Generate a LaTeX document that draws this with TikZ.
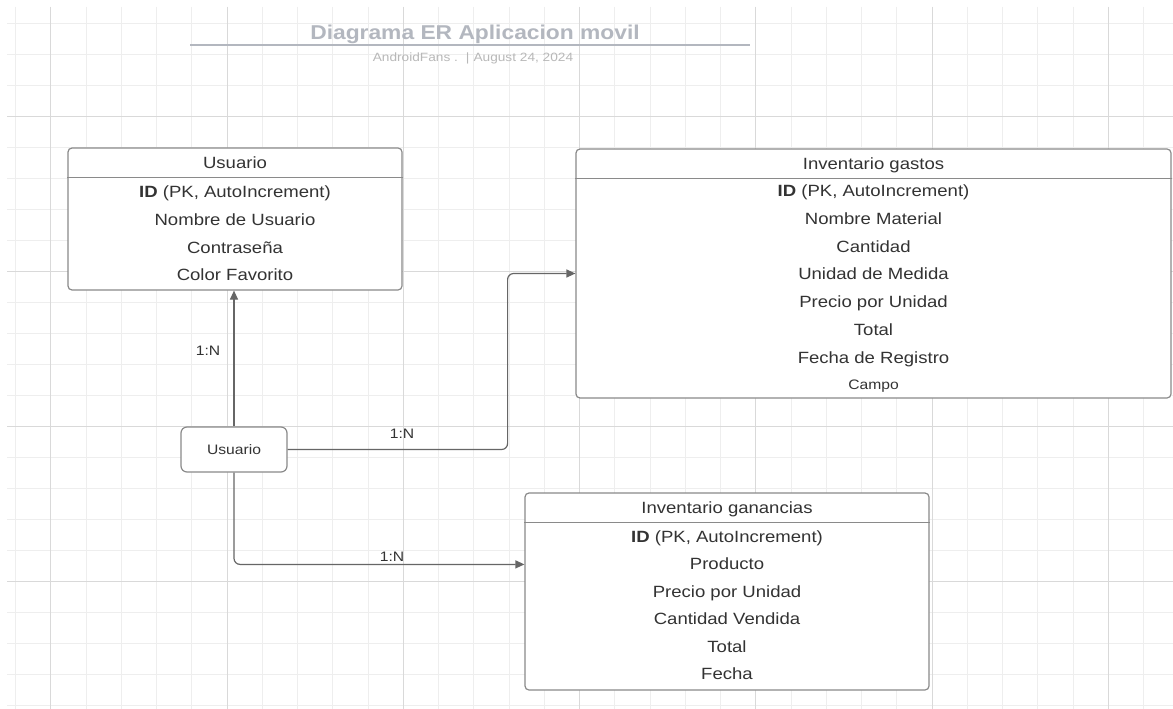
\documentclass[tikz,border=0pt]{standalone}
\usepackage{fontspec}
\setmainfont{Liberation Sans}[FakeStretch=1.14]
\usetikzlibrary{arrows.meta}
\definecolor{gridminor}{HTML}{EEEEEE}
\definecolor{gridmajor}{HTML}{D9D9D9}
\definecolor{txt}{HTML}{333333}
\definecolor{boxline}{HTML}{8A8A8A}
\definecolor{conncol}{HTML}{666666}
\definecolor{titlecol}{HTML}{B3B7BF}
\definecolor{subcol}{HTML}{B8B8B8}
\begin{document}
\begin{tikzpicture}[x=0.75pt,y=-0.75pt,
  entity/.style={draw=boxline, line width=0.9pt, fill=white, rounded corners=3pt, inner sep=0pt},
  sepline/.style={draw=boxline, line width=0.9pt},
  row/.style={font=\fontsize{12.2}{14}\selectfont, text=txt, inner sep=0pt, text height=8.8pt, text depth=0pt},
  small/.style={font=\fontsize{10.3}{12}\selectfont, text=txt, inner sep=0pt, text height=7.4pt, text depth=0pt},
  conn/.style={draw=conncol, line width=0.9pt, -{Triangle[length=6.75pt,width=6pt]}, rounded corners=4.5pt},
  gminor/.style={draw=gridminor, line width=0.75pt},
  gmajor/.style={draw=gridmajor, line width=0.75pt}
  ]
\useasboundingbox (0,0) rectangle (1173,709);
\fill[white] (0,0) rectangle (1173,709);
% grid
\foreach \k in {-1,...,31} \draw[gminor] ({50.75+35.25*\k},7) -- ({50.75+35.25*\k},709);
\foreach \k in {-3,...,19} \draw[gminor] (7,{116.7+31*\k}) -- (1173,{116.7+31*\k});
\foreach \k in {0,...,6} \draw[gmajor] ({50.75+176.25*\k},7) -- ({50.75+176.25*\k},709);
\foreach \k in {0,...,3} \draw[gmajor] (7,{116.7+155*\k}) -- (1173,{116.7+155*\k});

% title
\node[font=\bfseries\fontsize{15}{18}\selectfont, text=titlecol, inner sep=0pt, text height=10.7pt, text depth=0pt] (title) at (475,32) {Diagrama ER Aplicacion movil};
\coordinate (ulA) at (190,45);
\coordinate (ulB) at (750,45);
\draw[draw=titlecol, line width=1.4pt] (ulA) -- (ulB);
\node[font=\fontsize{9}{11}\selectfont, text=subcol, inner sep=0pt, text height=6.5pt, text depth=0pt] (subtitle) at (473,57) {AndroidFans .\hspace{6pt}|\hspace{3pt}August 24, 2024};

% Usuario table
\node[entity, minimum width=250.5pt, minimum height=106.5pt] (U) at (235,219) {};
\draw[sepline] ([yshift=-22.5pt]U.north west) -- ([yshift=-22.5pt]U.north east);
\node[row] (U-h) at (235,163) {Usuario};
\node[row] (U-1) at (235,192) {\textbf{ID} (PK, AutoIncrement)};
\node[row] (U-2) at (235,219.7) {Nombre de Usuario};
\node[row] (U-3) at (235,247.4) {Contraseña};
\node[row] (U-4) at (235,275.1) {Color Favorito};

% Inventario gastos table
\node[entity, minimum width=446.25pt, minimum height=186.75pt] (G) at (873.5,273.5) {};
\draw[sepline] ([yshift=-22.5pt]G.north west) -- ([yshift=-22.5pt]G.north east);
\node[row] (G-h) at (873.5,164) {Inventario gastos};
\node[row] (G-1) at (873.5,191) {\textbf{ID} (PK, AutoIncrement)};
\node[row] (G-2) at (873.5,218.7) {Nombre Material};
\node[row] (G-3) at (873.5,246.4) {Cantidad};
\node[row] (G-4) at (873.5,274.1) {Unidad de Medida};
\node[row] (G-5) at (873.5,301.8) {Precio por Unidad};
\node[row] (G-6) at (873.5,329.5) {Total};
\node[row] (G-7) at (873.5,357.2) {Fecha de Registro};
\node[small] (G-8) at (873.5,385) {Campo};

% Inventario ganancias table
\node[entity, minimum width=303pt, minimum height=147.75pt] (H) at (727,591.5) {};
\draw[sepline] ([yshift=-22.5pt]H.north west) -- ([yshift=-22.5pt]H.north east);
\node[row] (H-h) at (727,508) {Inventario ganancias};
\node[row] (H-1) at (727,536.5) {\textbf{ID} (PK, AutoIncrement)};
\node[row] (H-2) at (727,564) {Producto};
\node[row] (H-3) at (727,591.5) {Precio por Unidad};
\node[row] (H-4) at (727,619) {Cantidad Vendida};
\node[row] (H-5) at (727,646.5) {Total};
\node[row] (H-6) at (727,674) {Fecha};

% relationship box
\node[entity, small, rounded corners=4.5pt, minimum width=79.5pt, minimum height=33.75pt] (rel) at (234,449.5) {Usuario};

% connectors
\draw[conn] (rel.north) -- (rel.north |- U.south);
\draw[conn] (rel.east) -- ++(220,0) |- (G.west);
\draw[conn] (rel.south) |- ([yshift=-54pt]H.north west);

% cardinality labels
\node[small] (l1) at (208,351) {1:N};
\node[small] (l2) at (402,434) {1:N};
\node[small] (l3) at (392,557) {1:N};
\end{tikzpicture}
\end{document}
